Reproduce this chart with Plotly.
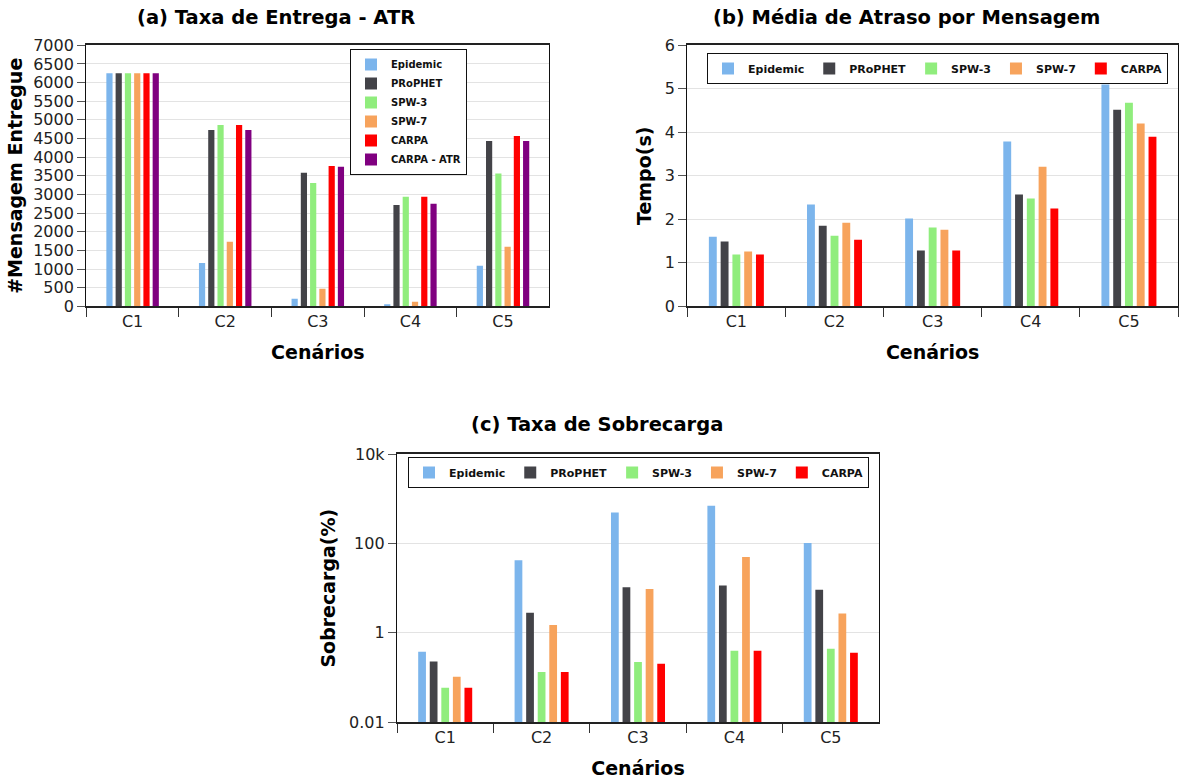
import plotly.graph_objects as go

W, H = 1182, 783

categories = ["C1", "C2", "C3", "C4", "C5"]

# (a) Taxa de Entrega - ATR
a_epidemic = [6250, 1160, 205, 45, 1090]
a_prophet = [6250, 4730, 3580, 2720, 4435]
a_spw3 = [6250, 4860, 3310, 2935, 3560]
a_spw7 = [6250, 1730, 470, 125, 1600]
a_carpa = [6250, 4860, 3765, 2935, 4570]
a_carpa_atr = [6250, 4730, 3740, 2750, 4435]

# (b) Média de Atraso por Mensagem
b_epidemic = [1.60, 2.34, 2.02, 3.79, 5.10]
b_prophet = [1.49, 1.85, 1.28, 2.57, 4.52]
b_spw3 = [1.19, 1.62, 1.81, 2.48, 4.68]
b_spw7 = [1.26, 1.92, 1.76, 3.21, 4.20]
b_carpa = [1.19, 1.53, 1.28, 2.25, 3.90]

# (c) Taxa de Sobrecarga (log)
c_epidemic = [0.38, 42, 490, 700, 102]
c_prophet = [0.23, 2.8, 10.5, 11.5, 9.2]
c_spw3 = [0.059, 0.134, 0.224, 0.40, 0.44]
c_spw7 = [0.104, 1.5, 9.6, 50, 2.7]
c_carpa = [0.059, 0.134, 0.204, 0.40, 0.36]

c_tickvals = [0.01, 1, 100, 10000]
c_ticktext = ["0.01", "1", "100", "10k"]

names = ["Epidemic", "PRoPHET", "SPW-3", "SPW-7", "CARPA", "CARPA - ATR"]
colors = ["#7cb5ec", "#434348", "#90ed7d", "#f7a35c", "#ff0000", "#800080"]

FONT = "DejaVu Sans"


def px_x(p):
    return p / W


def px_y(p):
    return 1 - p / H


fig = go.Figure()

panels = [
    ("x", "y", "legend", [a_epidemic, a_prophet, a_spw3, a_spw7, a_carpa, a_carpa_atr]),
    ("x2", "y2", "legend2", [b_epidemic, b_prophet, b_spw3, b_spw7, b_carpa]),
    ("x3", "y3", "legend3", [c_epidemic, c_prophet, c_spw3, c_spw7, c_carpa]),
]

for xa, ya, lg, series in panels:
    for i, vals in enumerate(series):
        fig.add_trace(go.Bar(
            x=categories, y=vals, name=names[i],
            marker=dict(color=colors[i], line=dict(width=0)),
            xaxis=xa, yaxis=ya, legend=lg, showlegend=True,
        ))

tickfont = dict(family=FONT, size=16, color="#222")
titlefont = dict(family=FONT, size=19, color="#000", weight="bold")


def xaxis(domain, anchor):
    return dict(
        domain=domain, anchor=anchor, type="category", automargin=False,
        categoryorder="array", categoryarray=categories,
        tickson="boundaries", ticks="outside", ticklen=9, tickwidth=1.2,
        tickcolor="#333", showline=True, linecolor="#222", linewidth=1.6,
        mirror=True, showgrid=False, tickfont=tickfont,
        title=dict(text="Cenários", font=titlefont, standoff=15),
    )


def yaxis(domain, anchor, title, standoff, **kw):
    d = dict(
        domain=domain, anchor=anchor, automargin=False, ticks="outside",
        ticklen=8, tickwidth=1.2, tickcolor="#555", showline=True,
        linecolor="#111", linewidth=1.4, mirror=True, showgrid=True,
        gridcolor="#e3e3e3", gridwidth=1, zeroline=False, tickfont=tickfont,
        title=dict(text=title, font=titlefont, standoff=standoff),
    )
    d.update(kw)
    return d


ya_dom = [px_y(306.3), px_y(45.3)]
yc_dom = [px_y(722.3), px_y(454)]

legend_common = dict(
    bgcolor="white", bordercolor="#111", borderwidth=1,
    xanchor="left", yanchor="top", itemwidth=30, tracegroupgap=0,
)

title_font = dict(family=FONT, size=19.5, color="#000", weight="bold")

fig.update_layout(
    width=W, height=H, autosize=False,
    margin=dict(l=0, r=0, t=0, b=0, autoexpand=False),
    paper_bgcolor="white", plot_bgcolor="white",
    barmode="group", bargap=0.4, bargroupgap=0.33,
    font=dict(family=FONT, color="#222"),
    xaxis=xaxis([px_x(86.3), px_x(549.3)], "y"),
    yaxis=yaxis(ya_dom, "x", "#Mensagem Entregue", 5,
                range=[0, 7000], dtick=500, tick0=0),
    xaxis2=xaxis([px_x(687.3), px_x(1178)], "y2"),
    yaxis2=yaxis(ya_dom, "x2", "Tempo(s)", 8, range=[0, 6], dtick=1, tick0=0),
    xaxis3=xaxis([px_x(397), px_x(879)], "y3"),
    yaxis3=yaxis(yc_dom, "x3", "Sobrecarga(%)", 8, type="log", range=[-2, 4],
                 tickvals=c_tickvals, ticktext=c_ticktext),
    legend=dict(x=px_x(350), y=px_y(49), orientation="v",
                font=dict(family=FONT, size=10, color="#111", weight="bold"),
                **legend_common),
    legend2=dict(x=px_x(707), y=px_y(53), orientation="h",
                 font=dict(family=FONT, size=11, color="#111", weight="bold"),
                 **legend_common),
    legend3=dict(x=px_x(408), y=px_y(457), orientation="h",
                 font=dict(family=FONT, size=11, color="#111", weight="bold"),
                 **legend_common),
    annotations=[
        dict(text="(a) Taxa de Entrega - ATR", x=px_x(276), y=px_y(18),
             xref="paper", yref="paper", xanchor="center", yanchor="middle",
             showarrow=False, font=title_font),
        dict(text="(b) Média de Atraso por Mensagem", x=px_x(906), y=px_y(18),
             xref="paper", yref="paper", xanchor="center", yanchor="middle",
             showarrow=False, font=title_font),
        dict(text="(c) Taxa de Sobrecarga", x=px_x(597), y=px_y(424),
             xref="paper", yref="paper", xanchor="center", yanchor="middle",
             showarrow=False, font=title_font),
    ],
)

fig.write_html("out.html")
